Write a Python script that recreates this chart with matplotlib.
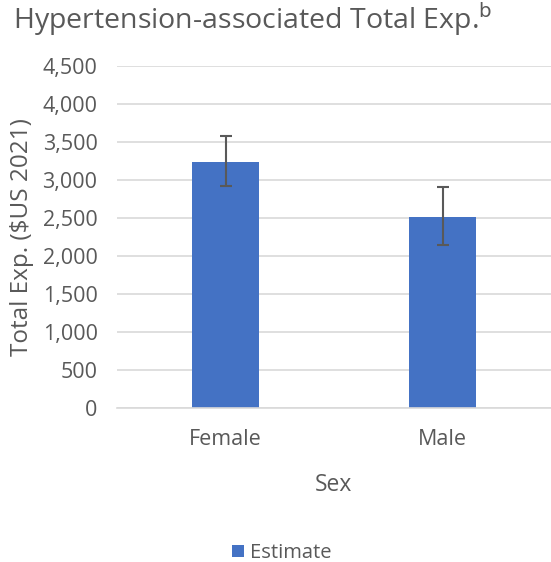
import matplotlib
matplotlib.use("Agg")
import matplotlib.pyplot as plt
import numpy as np

categories = ["Female", "Male"]
estimate = [3242, 2511]
ci_low = [2916, 2142]
ci_high = [3576, 2907]
y_ticks = [0, 500, 1000, 1500, 2000, 2500, 3000, 3500, 4000, 4500]

plt.rcParams['font.family'] = ['Open Sans', 'DejaVu Sans']
text_color = '#595959'

fig = plt.figure(figsize=(5.51, 5.62), dpi=100)
ax = fig.add_axes([117 / 551, 1 - 408 / 562, 1 - 117 / 551, (408 - 66) / 562])

x = np.arange(len(categories))
est = np.array(estimate)
yerr = np.vstack([est - np.array(ci_low), np.array(ci_high) - est])

ax.bar(x, est, width=0.31, color='#4472C4', label='Estimate', zorder=2)
ax.errorbar(x, est, yerr=yerr, fmt='none', ecolor='#595959', elinewidth=1.5,
            capsize=4.3, capthick=1.5, zorder=3)

ax.set_xlim(-0.5, 1.5)
ax.set_ylim(0, 4500)
ax.set_yticks(y_ticks)
ax.set_yticklabels([f"{v:,}" for v in y_ticks])
ax.set_xticks(x)
ax.set_xticklabels(categories)
ax.yaxis.grid(True, color='#d9d9d9', linewidth=1.2, zorder=0)
ax.set_axisbelow(True)
for s in ['top', 'right', 'left']:
    ax.spines[s].set_visible(False)
ax.spines['bottom'].set_color('#d9d9d9')
ax.spines['bottom'].set_linewidth(1.2)
ax.tick_params(axis='both', length=0, labelsize=15.5, colors=text_color)
ax.tick_params(axis='y', pad=14)
ax.tick_params(axis='x', pad=15)

ax.set_xlabel('Sex', fontsize=16.5, color=text_color, labelpad=17)
ax.set_ylabel('Total Exp. ($US 2021)', fontsize=17.5, color=text_color, labelpad=6)

fig.text(253 / 551, 1 - 19 / 562, 'Hypertension-associated Total Exp.$^{\\mathrm{b}}$',
         ha='center', va='center', fontsize=20.5, color=text_color)

ax.legend(loc='center', bbox_to_anchor=((282 - 117) / (551 - 117), -0.424),
          frameon=False, fontsize=14.5, labelcolor=text_color, handlelength=0.6,
          handleheight=0.6, handletextpad=0.3)

fig.savefig('out.png', dpi=100)
